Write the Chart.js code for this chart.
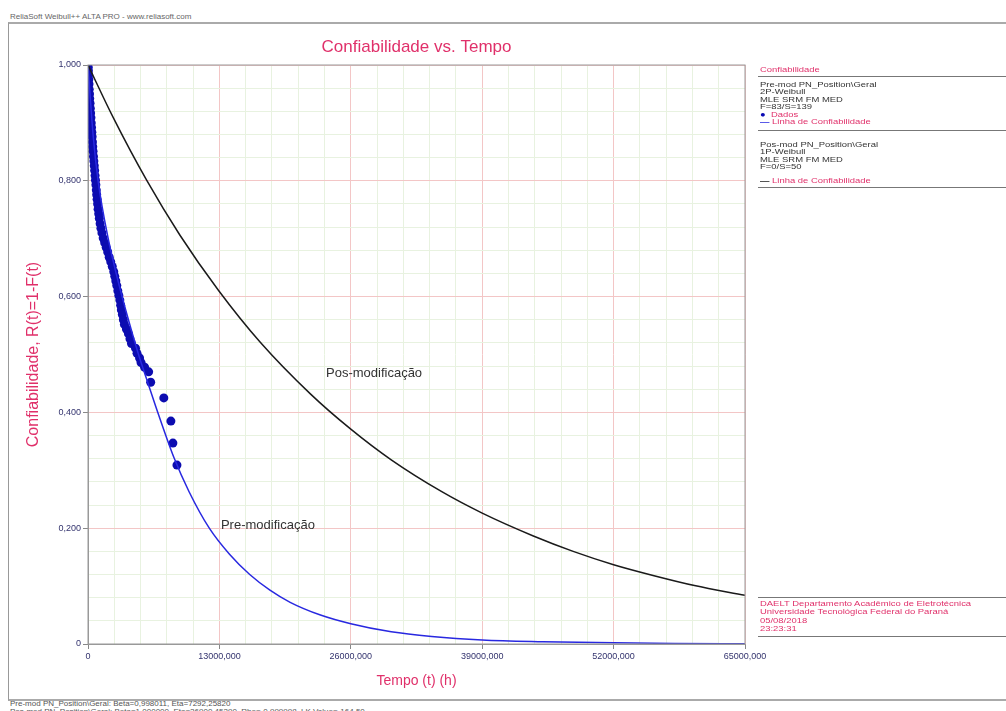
<!DOCTYPE html>
<html>
<head>
<meta charset="utf-8">
<script src="https://cdn.jsdelivr.net/npm/chart.js@4/dist/chart.umd.min.js"></script>
<style>
body { margin: 0; background: #fff; width: 1006px; height: 711px; position: relative; overflow: hidden; font-family: "Liberation Sans", Arial, sans-serif; }
#header { position: absolute; left: 10px; top: 12px; font-size: 8px; color: #666; }
#frame { position: absolute; left: 8px; top: 22px; width: 998px; height: 675px; border-left: 1px solid #999; border-top: 2px solid #aaa; border-bottom: 2px solid #aaa; }
#wrap { position: absolute; left: 10px; top: 24px; width: 790px; height: 666px; }
.leg { position: absolute; left: 760px; font-size: 8px; line-height: 7.4px; color: #333; white-space: nowrap; transform: scaleX(1.18); transform-origin: 0 0; }
.pink { color: #e0306a; }
.sep { position: absolute; left: 758px; width: 248px; height: 0; border-top: 1px solid #777; }
#footer { position: absolute; left: 10px; top: 700px; font-size: 8px; line-height: 7.5px; color: #555; white-space: nowrap; }
</style>
</head>
<body>
<div id="header">ReliaSoft Weibull++ ALTA PRO - www.reliasoft.com</div>
<div id="frame"></div>
<div id="wrap"><canvas id="chart"></canvas></div>

<div class="leg pink" style="top:66px;">Confiabilidade</div>
<div class="sep" style="top:76px;"></div>
<div class="leg" style="top:81px;">Pre-mod PN_Position\Geral<br>2P-Weibull<br>MLE SRM FM MED<br>F=83/S=139</div>
<div class="leg" style="top:110.6px;"><span style="color:#0a0ab4;">&#9679;</span>&nbsp; <span class="pink">Dados</span></div>
<div class="leg" style="top:118px;"><span style="color:#2020e0;font-weight:bold;">&#8212;</span> <span class="pink">Linha de Confiabilidade</span></div>
<div class="sep" style="top:130px;"></div>
<div class="leg" style="top:141px;">Pos-mod PN_Position\Geral<br>1P-Weibull<br>MLE SRM FM MED<br>F=0/S=50</div>
<div class="leg" style="top:177px;"><span style="color:#111;font-weight:bold;">&#8212;</span> <span class="pink">Linha de Confiabilidade</span></div>
<div class="sep" style="top:187px;"></div>

<div class="sep" style="top:597px;"></div>
<div class="leg pink" style="top:600px; line-height: 8.4px;">DAELT Departamento Acadêmico de Eletrotécnica<br>Universidade Tecnológica Federal do Paraná<br>05/08/2018<br>23:23:31</div>
<div class="sep" style="top:636px;"></div>

<div id="footer">Pre-mod PN_Position\Geral: Beta=0,998011, Eta=7292,25820<br>Pos-mod PN_Position\Geral: Beta=1,000000, Eta=26900,45290, Rho=-0,999998, LK Value=-164,50</div>

<script>
// eixos
const xTicks = [0, 13000, 26000, 39000, 52000, 65000];
const xTickLabels = ['0', '13000,000', '26000,000', '39000,000', '52000,000', '65000,000'];
const yTicks = [0, 0.2, 0.4, 0.6, 0.8, 1.0];
const yTickLabels = ['0', '0,200', '0,400', '0,600', '0,800', '1,000'];

// dados pre-modificacao (pontos)
const dadosTempo = [20, 40, 60, 80, 100, 120, 150, 170, 200, 230, 260, 290, 320, 350, 380, 410, 440, 470, 500, 540,
  580, 620, 660, 700, 740, 780, 820, 860, 900, 950, 1000, 1060, 1120, 1200, 1280, 1380, 1500, 1650, 1800, 1950,
  2100, 2250, 2400, 2550, 2650, 2750, 2850, 2950, 3050, 3150, 3230, 3300, 3400, 3500, 3600, 3800, 4000, 4150, 4300, 4700,
  4850, 5100, 5250, 5600, 6000, 6200, 7500, 8200, 8400, 8800];
const dadosConf = [0.996, 0.990, 0.983, 0.975, 0.967, 0.958, 0.950, 0.942, 0.934, 0.925, 0.917, 0.909, 0.900, 0.892, 0.884, 0.876, 0.867, 0.859, 0.851, 0.842,
  0.834, 0.826, 0.818, 0.809, 0.801, 0.793, 0.784, 0.776, 0.768, 0.760, 0.751, 0.743, 0.735, 0.726, 0.718, 0.710, 0.701, 0.693, 0.685, 0.677,
  0.668, 0.660, 0.652, 0.643, 0.635, 0.627, 0.619, 0.610, 0.602, 0.594, 0.585, 0.577, 0.569, 0.560, 0.552, 0.544, 0.536, 0.527, 0.519, 0.511,
  0.502, 0.494, 0.486, 0.478, 0.470, 0.452, 0.425, 0.385, 0.347, 0.309];

// linha pre-modificacao
const preTempo = [0, 500, 1000, 2000, 3000, 4000, 5000, 6000, 7000, 8500, 10000, 12000, 14000, 16000, 18000, 20000, 23000, 26000, 30000, 34000, 39000, 45000, 52000, 58000, 65000];
const preConf = [1.0, 0.880, 0.800, 0.700, 0.625, 0.560, 0.500, 0.447, 0.395, 0.322, 0.263, 0.200, 0.155, 0.120, 0.093, 0.072, 0.050, 0.035, 0.021, 0.013, 0.007, 0.004, 0.002, 0.001, 0.0005];

// linha pos-modificacao
const posTempo = [0, 2500, 5800, 9100, 12900, 17000, 22000, 26000, 30000, 35000, 39000, 44000, 48000, 52000, 56000, 60000, 65000];
const posConf = [1.0, 0.909, 0.801, 0.706, 0.611, 0.522, 0.432, 0.371, 0.318, 0.263, 0.226, 0.187, 0.160, 0.137, 0.118, 0.101, 0.084];

const toXY = (xs, ys) => xs.map((x, i) => ({ x: x, y: ys[i] }));

function withMinor(major) {
  const out = [];
  for (let i = 0; i < major.length; i++) {
    out.push(major[i]);
    if (i < major.length - 1) {
      const step = (major[i + 1] - major[i]) / 5;
      for (let k = 1; k < 5; k++) out.push(major[i] + step * k);
    }
  }
  return out;
}
const isMajor = (list, v) => list.some(m => Math.abs(m - v) < 1e-6 * Math.max(1, Math.abs(m)));
function labelFor(list, labels, v) {
  const i = list.findIndex(m => Math.abs(m - v) < 1e-6 * Math.max(1, Math.abs(m)));
  return i >= 0 ? labels[i] : '';
}

const FONT = '"Liberation Sans", Arial, sans-serif';

const annotations = {
  id: 'annotations',
  afterDatasetsDraw(chart) {
    const { ctx, chartArea, scales } = chart;
    ctx.save();
    ctx.strokeStyle = '#999';
    ctx.lineWidth = 1;
    ctx.strokeRect(chartArea.left, chartArea.top, chartArea.right - chartArea.left, chartArea.bottom - chartArea.top);
    ctx.textAlign = 'center';
    ctx.textBaseline = 'middle';
    // titulo
    ctx.fillStyle = '#e0306a';
    ctx.font = '17px ' + FONT;
    ctx.fillText('Confiabilidade vs. Tempo', (chartArea.left + chartArea.right) / 2, chartArea.top - 18);
    ctx.fillStyle = '#333';
    ctx.font = '13px ' + FONT;
    ctx.fillText('Pos-modificação', scales.x.getPixelForValue(28300), scales.y.getPixelForValue(0.468));
    ctx.fillText('Pre-modificação', scales.x.getPixelForValue(17800), scales.y.getPixelForValue(0.205));
    ctx.restore();
  }
};

new Chart(document.getElementById('chart'), {
  type: 'scatter',
  data: {
    datasets: [
      {
        label: 'Linha pos',
        data: toXY(posTempo, posConf),
        showLine: true,
        borderColor: '#1a1a1a',
        borderWidth: 1.5,
        pointRadius: 0,
        cubicInterpolationMode: 'monotone'
      },
      {
        label: 'Linha pre',
        data: toXY(preTempo, preConf),
        showLine: true,
        borderColor: '#2828e0',
        borderWidth: 1.5,
        pointRadius: 0,
        cubicInterpolationMode: 'monotone'
      },
      {
        label: 'Dados',
        data: toXY(dadosTempo, dadosConf),
        showLine: false,
        pointRadius: 4.5,
        pointBackgroundColor: '#0c0cb0',
        pointBorderColor: '#0c0cb0',
        pointBorderWidth: 0
      }
    ]
  },
  options: {
    responsive: true,
    maintainAspectRatio: false,
    animation: false,
    layout: { padding: { left: 0, right: 55, top: 41, bottom: 0 } },
    plugins: {
      legend: { display: false },
      tooltip: { enabled: false },
      title: { display: false }
    },
    scales: {
      x: {
        type: 'linear',
        min: 0,
        max: 65000,
        afterBuildTicks: axis => { axis.ticks = withMinor(xTicks).map(v => ({ value: v })); },
        afterFit: scale => { scale.height = 46; },
        ticks: {
          autoSkip: false,
          maxRotation: 0,
          minRotation: 0,
          color: '#33336e',
          font: { size: 9, family: FONT },
          padding: 2,
          callback: v => labelFor(xTicks, xTickLabels, v)
        },
        grid: {
          color: c => isMajor(xTicks, c.tick.value) ? '#f3c6c6' : '#e8f2e0',
          tickColor: c => isMajor(xTicks, c.tick.value) ? '#888' : 'rgba(0,0,0,0)',
          tickLength: 5
        },
        border: { color: '#999' },
        title: {
          display: true,
          text: 'Tempo (t) (h)',
          color: '#e0306a',
          font: { size: 14, family: FONT },
          padding: { top: 5, bottom: 0 }
        }
      },
      y: {
        type: 'linear',
        min: 0,
        max: 1,
        afterBuildTicks: axis => { axis.ticks = withMinor(yTicks).map(v => ({ value: v })); },
        afterFit: scale => { scale.width = 78; },
        ticks: {
          autoSkip: false,
          color: '#33336e',
          font: { size: 9, family: FONT },
          padding: 2,
          callback: v => labelFor(yTicks, yTickLabels, v)
        },
        grid: {
          color: c => isMajor(yTicks, c.tick.value) ? '#f3c6c6' : '#e8f2e0',
          tickColor: c => isMajor(yTicks, c.tick.value) ? '#888' : 'rgba(0,0,0,0)',
          tickLength: 5
        },
        border: { color: '#999' },
        title: {
          display: true,
          text: 'Confiabilidade, R(t)=1-F(t)',
          color: '#e0306a',
          font: { size: 16, family: FONT },
          padding: { top: 14, bottom: 0 }
        }
      }
    }
  },
  plugins: [annotations]
});
</script>
</body>
</html>
